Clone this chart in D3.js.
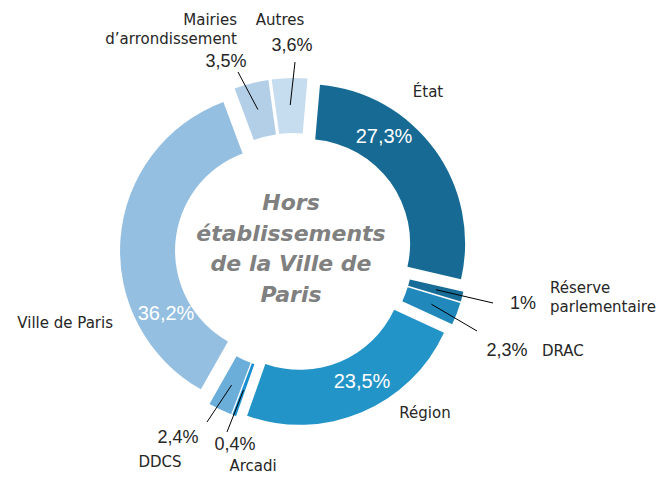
<!DOCTYPE html>
<html>
<head>
<meta charset="utf-8">
<script src="https://cdn.jsdelivr.net/npm/d3@7"></script>
<style>
  body { margin: 0; background: #fff; }
  svg { display: block; }
</style>
</head>
<body>
<div id="chart-area"></div>
<script>
const WIDTH = 669;
const HEIGHT = 484;
const CX = 294;
const CY = 252;
const OUTER = 159;
const INNER = 104;
const EXPLODE = 15;

// data
const categories = ['État', 'Réserve parlementaire', 'DRAC', 'Région', 'Arcadi', 'DDCS',
  'Ville de Paris', "Mairies d'arrondissement", 'Autres'];
const shares = [27.3, 1, 2.3, 23.5, 0.4, 2.4, 36.2, 3.5, 3.6];
const valueLabels = ['27,3%', '1%', '2,3%', '23,5%', '0,4%', '2,4%', '36,2%', '3,5%', '3,6%'];
const nameLines = [['État'], ['Réserve', 'parlementaire'], ['DRAC'], ['Région'], ['Arcadi'], ['DDCS'],
  ['Ville de Paris'], ['Mairies', 'd\u2019arrondissement'], ['Autres']];
const centerLines = ['Hors', 'établissements', 'de la Ville de', 'Paris'];

const colors = ['#166a94', '#186c98', '#2088bb', '#2394c8', '#1a8fd0', '#6baed9',
  '#95bfe1', '#b3cfe8', '#c6dcef'];

// label layout: value label [x, y, anchor, colour, size], name label [x, y, anchor], leader end
const layout = [
  {v: [384, 143, 'middle', '#fff', 20], n: [428, 97, 'middle'], lead: null},
  {v: [523, 309, 'middle', '#262626', 18], n: [550, 293, 'start'], lead: [493, 303]},
  {v: [507, 356, 'middle', '#262626', 18], n: [542, 356, 'start'], lead: [477, 331]},
  {v: [362, 388, 'middle', '#fff', 20], n: [425, 418, 'middle'], lead: null},
  {v: [235, 450, 'middle', '#262626', 18], n: [253, 471, 'middle'], lead: [227, 432]},
  {v: [178, 443, 'middle', '#262626', 18], n: [160, 467, 'middle'], lead: [207, 422]},
  {v: [166, 320, 'middle', '#fff', 20], n: [113, 328, 'end'], lead: null},
  {v: [226, 67, 'middle', '#262626', 18], n: [237, 25, 'end'], lead: [238, 72]},
  {v: [292, 51, 'middle', '#262626', 18], n: [280, 25, 'middle'], lead: [295, 62]},
];

main();

function main() {
  const svg = d3.select('#chart-area').append('svg')
    .attr('width', WIDTH)
    .attr('height', HEIGHT);
  showGraph(svg);
}

function showGraph(svg) {
  const start = 5 * Math.PI / 180;
  const pie = d3.pie()
    .sort(null)
    .startAngle(start)
    .endAngle(start + 2 * Math.PI);
  const arcs = pie(shares);

  const arc = d3.arc().innerRadius(INNER).outerRadius(OUTER);
  const midArc = d3.arc().innerRadius(INNER + 28).outerRadius(INNER + 28);

  const g = svg.append('g')
    .attr('transform', `translate(${ CX }, ${ CY })`);

  const offset = d => {
    const a = (d.startAngle + d.endAngle) / 2;
    return [EXPLODE * Math.sin(a), -EXPLODE * Math.cos(a)];
  };

  g.selectAll('path.slice')
    .data(arcs)
    .enter()
    .append('path')
    .attr('class', 'slice')
    .attr('transform', d => `translate(${ offset(d) })`)
    .attr('d', arc)
    .attr('fill', (d, i) => colors[i]);

  // leader lines
  arcs.forEach((d, i) => {
    const l = layout[i].lead;
    if (!l) return;
    const o = offset(d);
    const c = midArc.centroid(d);
    svg.append('line')
      .attr('x1', CX + o[0] + c[0])
      .attr('y1', CY + o[1] + c[1])
      .attr('x2', l[0])
      .attr('y2', l[1])
      .attr('stroke', '#000')
      .attr('stroke-width', 1);
  });

  // value labels
  svg.selectAll('text.value')
    .data(valueLabels)
    .enter()
    .append('text')
    .attr('class', 'value')
    .attr('x', (d, i) => layout[i].v[0])
    .attr('y', (d, i) => layout[i].v[1])
    .attr('text-anchor', (d, i) => layout[i].v[2])
    .attr('fill', (d, i) => layout[i].v[3])
    .style('font-family', '"Liberation Sans", Arial, sans-serif')
    .style('font-size', (d, i) => layout[i].v[4] + 'px')
    .text(d => d);

  // category names
  nameLines.forEach((lines, i) => {
    const n = layout[i].n;
    const t = svg.append('text')
      .attr('x', n[0])
      .attr('y', n[1])
      .attr('text-anchor', n[2])
      .attr('fill', '#262626')
      .style('font-family', '"DejaVu Sans", sans-serif')
      .style('font-size', '15px');
    lines.forEach((line, k) => {
      t.append('tspan')
        .attr('x', n[0])
        .attr('dy', k === 0 ? 0 : 19)
        .text(line);
    });
  });

  // center title
  const title = svg.append('text')
    .attr('text-anchor', 'middle')
    .attr('fill', '#808080')
    .style('font-family', '"DejaVu Sans", sans-serif')
    .style('font-size', '22px')
    .style('font-weight', 'bold')
    .style('font-style', 'italic');
  centerLines.forEach((line, k) => {
    title.append('tspan')
      .attr('x', CX - 3)
      .attr('y', 210 + k * 30.5)
      .text(line);
  });
}
</script>
</body>
</html>
